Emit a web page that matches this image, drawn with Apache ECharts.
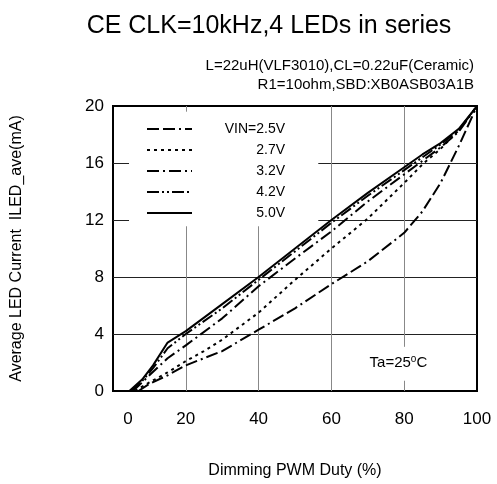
<!DOCTYPE html>
<html>
<head>
<meta charset="utf-8">
<script src="https://cdn.jsdelivr.net/npm/echarts@6/dist/echarts.min.js"></script>
<style>html,body{margin:0;padding:0;background:#fff;}#c{width:497px;height:484px;}</style>
</head>
<body>
<div id="c"></div>
<script>
// ---- data ----
const seriesNames = ['VIN=2.5V', '2.7V', '3.2V', '4.2V', '5.0V'];
const v25 = [[7,0],[10,0.5],[15,1.1],[20,1.8],[25,2.3],[30,2.8],[40,4.3],[50,5.8],[60,7.5],[70,9.1],[80,11.1],[85,12.6],[90,14.6],[95,17.2],[100,20]];
const v27 = [[6,0],[10,0.6],[15,1.3],[20,2.1],[25,2.8],[30,3.6],[40,5.5],[50,7.8],[60,10.0],[70,12.1],[80,14.6],[85,15.9],[90,17.0],[95,18.3],[100,20]];
const v32 = [[5.5,0],[10,1.1],[15,2.3],[20,3.2],[30,5.1],[40,7.35],[50,9.3],[60,11.2],[70,13.3],[80,15.2],[90,17.1],[95,18.2],[100,20]];
const v42 = [[5,0],[8,0.7],[11,1.6],[15,3.0],[20,4.0],[30,5.8],[40,7.8],[50,9.8],[60,11.8],[70,13.7],[80,15.5],[90,17.3],[95,18.3],[100,20]];
const v50 = [[4.5,0],[8,0.8],[11,1.8],[15,3.4],[20,4.2],[30,6.1],[40,8.0],[50,10.0],[60,12.0],[70,13.9],[80,15.7],[85,16.6],[90,17.4],[95,18.4],[100,20]];
const xTicks = [0, 20, 40, 60, 80, 100];
const yTicks = [0, 4, 8, 12, 16, 20];
const titleText = 'CE CLK=10kHz,4 LEDs in series';
const condLine1 = 'L=22uH(VLF3010),CL=0.22uF(Ceramic)';
const condLine2 = 'R1=10ohm,SBD:XB0ASB03A1B';
const xName = 'Dimming PWM Duty (%)';
const yName = 'Average LED Current  ILED_ave(mA)';

const FONT = 'Liberation Sans, Arial, sans-serif';
const dashes = [[12,4,12,4,2,4],[3,4],[12,4,2,4],[12,3,2,3,2,3],'solid'];
const values = [v25, v27, v32, v42, v50];

const H = '#222', V = '#888';
function seg(a, b, c) { return [{coord: a, lineStyle: {color: c, width: 1, type: 'solid'}}, {coord: b}]; }
const gridSegs = [
  seg([0,4],[100,4],H), seg([0,8],[100,8],H),
  seg([0,12],[4.4,12],H), seg([56.4,12],[100,12],H),
  seg([0,16],[4.4,16],H), seg([56.4,16],[100,16],H),
  seg([20,0],[20,11.56],V), seg([20,20],[20,19.6],V),
  seg([40,0],[40,11.56],V),
  seg([60,0],[60,20],V),
  seg([80,3.1],[80,20],V), seg([80,0],[80,0.72],V)
];

const series = values.map((d, i) => ({
  name: seriesNames[i], type: 'line', data: d, showSymbol: false, symbol: 'none',
  smooth: false, z: 5,
  itemStyle: {color: '#000'},
  lineStyle: {color: '#000', width: 2, type: dashes[i]}
}));
series.push({
  name: 'gridlines', type: 'line', data: [[0,0]], showSymbol: false, symbol: 'none',
  lineStyle: {opacity: 0}, z: 2,
  markLine: {silent: true, symbol: 'none', label: {show: false}, data: gridSegs},
  markPoint: {
    symbol: 'circle', symbolSize: 0,
    data: [{coord: [78.4, 1.95], label: {
      show: true, position: 'inside',
      formatter: '{n|Ta=25}{s|o}{n|C}',
      rich: {n: {fontSize: 15, fontFamily: FONT, color: '#000'},
             s: {fontSize: 10, fontFamily: FONT, color: '#000', padding: [0,0,7,0]}}
    }}]
  }
});

const chart = echarts.init(document.getElementById('c'), null, {renderer: 'canvas'});
chart.setOption({
  animation: false,
  backgroundColor: '#fff',
  title: [
    {text: titleText, left: 264, top: 9, textAlign: 'center',
     textStyle: {fontSize: 25, fontWeight: 'normal', fontFamily: FONT, color: '#000'}},
    {text: condLine1, right: 18, top: 53,
     textStyle: {fontSize: 15, fontWeight: 'normal', fontFamily: FONT, color: '#000'}},
    {text: condLine2, right: 18, top: 72,
     textStyle: {fontSize: 15, fontWeight: 'normal', fontFamily: FONT, color: '#000'}}
  ],
  legend: {
    orient: 'vertical', left: 141, top: 117,
    data: seriesNames, itemWidth: 45, itemHeight: 14, itemGap: 7,
    itemStyle: {opacity: 0},
    formatter: n => '{t|' + n + '}',
    textStyle: {rich: {t: {width: 88, align: 'right', fontSize: 14, fontFamily: FONT, color: '#000'}}},
    selectedMode: false
  },
  grid: {left: 113, right: 20, top: 106, bottom: 92, show: true, borderColor: '#000', borderWidth: 2, backgroundColor: 'transparent'},
  xAxis: {
    type: 'value', min: 0, max: 100, interval: 20,
    name: xName, nameLocation: 'middle', nameGap: 72,
    nameTextStyle: {fontSize: 16, fontFamily: FONT, color: '#000'},
    axisLine: {show: false}, axisTick: {show: false}, splitLine: {show: false},
    axisLabel: {fontSize: 17, fontFamily: FONT, color: '#000', margin: 20,
      formatter: v => xTicks.indexOf(v) === 0 ? '{z|' + v + '}' : String(v),
      rich: {z: {fontSize: 17, fontFamily: FONT, color: '#000', padding: [0,0,0,30]}}}
  },
  yAxis: {
    type: 'value', min: 0, max: 20, interval: 4,
    name: yName, nameLocation: 'middle', nameGap: 88,
    nameTextStyle: {fontSize: 16, fontFamily: FONT, color: '#000'},
    axisLine: {show: false}, axisTick: {show: false}, splitLine: {show: false},
    axisLabel: {fontSize: 17, fontFamily: FONT, color: '#000', margin: 9,
      formatter: v => (yTicks.indexOf(v) >= 0 ? String(v) : '')}
  },
  series: series
});
</script>
</body>
</html>
